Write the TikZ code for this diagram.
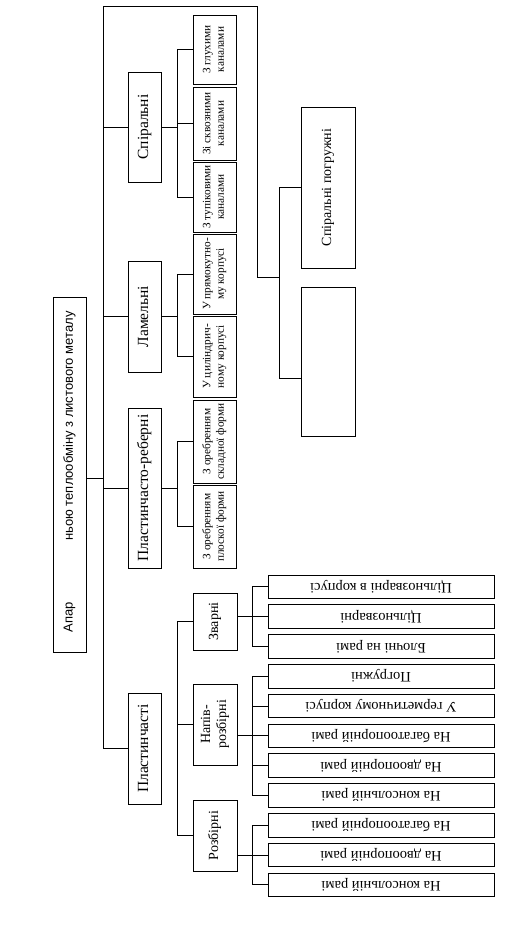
\documentclass[tikz,border=0pt]{standalone}
\usepackage{fontspec}
\setmainfont{Liberation Serif}
\newfontfamily\rootfont{Liberation Sans}
\usepackage{graphicx}
\newcommand\vtxt[1]{\rotatebox{90}{\begin{tabular}{@{}c@{}}#1\end{tabular}}}
\newcommand\utxt[1]{\rotatebox{180}{#1}}
\begin{document}
\begin{tikzpicture}[x=1pt,y=-1pt,
  box/.style={draw, line width=0.9pt, rectangle, inner sep=0pt},
  lnk/.style={line width=0.8pt},
  lvone/.style={box, minimum width=33pt, font=\fontsize{15.5}{18}\selectfont},
  lvtwo/.style={box, minimum width=43pt, font=\fontsize{11.3}{13.5}\selectfont},
  lvtwob/.style={box, minimum width=44pt, font=\fontsize{14}{16}\selectfont},
  leaf/.style={box, minimum width=226pt, minimum height=23.5pt, font=\fontsize{14.5}{17}\selectfont},
  rtxt/.style={inner sep=0pt, font=\rootfont\fontsize{13}{15}\selectfont}]
\useasboundingbox[fill=white] (0,0) rectangle (521,943);

% root
\node[box, minimum width=33pt, minimum height=355pt] (root) at (69.5,474.5) {};
\node[rtxt] (rt1) at (69.5,617.5) {\rotatebox{90}{Апар}};
\node[rtxt] (rt2) at (69.5,426) {\rotatebox{90}{ньою теплообміну з листового металу}};

% level 1
\node[lvone, minimum height=110pt] (spir) at (144.5,127) {\vtxt{Спіральні}};
\node[lvone, minimum height=111pt] (lam) at (144.5,316.5) {\vtxt{Ламельні}};
\node[lvone, minimum height=160pt] (plreb) at (144.5,488) {\vtxt{Пластинчасто-реберні}};
\node[lvone, minimum height=111pt] (plast) at (144.5,748.5) {\vtxt{Пластинчасті}};

% spiral children
\node[lvtwo, minimum height=69pt] (g1) at (214.5,49.5) {\vtxt{З глухими\\каналами}};
\node[lvtwo, minimum height=73pt] (g2) at (214.5,123.5) {\vtxt{Зі сквозними\\каналами}};
\node[lvtwo, minimum height=70pt] (g3) at (214.5,197) {\vtxt{З тупіковими\\каналами}};
% lamel children
\node[lvtwo, minimum height=80pt] (l1) at (214.5,274) {\vtxt{У прямокутно-\\му корпусі}};
\node[lvtwo, minimum height=81pt] (l2) at (214.5,356.5) {\vtxt{У циліндрич-\\ному корпусі}};
% plate-fin children
\node[lvtwo, minimum height=83pt] (r1) at (214.5,441.5) {\vtxt{З оребренням\\складної форми}};
\node[lvtwo, minimum height=83pt] (r2) at (214.5,526.5) {\vtxt{З оребренням\\плоскої форми}};
% plate children
\node[lvtwob, minimum height=57pt] (zv) at (215,621.5) {\vtxt{Зварні}};
\node[lvtwob, minimum height=81pt] (np) at (215,724.5) {\vtxt{Напів-\\розбірні}};
\node[lvtwob, minimum height=71pt] (rz) at (215,835.5) {\vtxt{Розбірні}};

% leaves
\node[leaf] (z1) at (381,586.8) {\utxt{Цільнозварні в корпусі}};
\node[leaf] (z2) at (381,616.6) {\utxt{Цільнозварні}};
\node[leaf] (z3) at (381,646.4) {\utxt{Блочні на рамі}};
\node[leaf] (n1) at (381,676.2) {\utxt{Погружні}};
\node[leaf] (n2) at (381,706.0) {\utxt{У герметичному корпусі}};
\node[leaf] (n3) at (381,735.8) {\utxt{На багатоопорній рамі}};
\node[leaf] (n4) at (381,765.6) {\utxt{На двоопорній рамі}};
\node[leaf] (n5) at (381,795.4) {\utxt{На консольній рамі}};
\node[leaf] (q1) at (381,825.2) {\utxt{На багатоопорній рамі}};
\node[leaf] (q2) at (381,855.0) {\utxt{На двоопорній рамі}};
\node[leaf] (q3) at (381,884.8) {\utxt{На консольній рамі}};

% spiral immersed
\node[box, minimum width=54pt, minimum height=161pt, font=\fontsize{14}{16}\selectfont] (sp1) at (328,187.5) {\vtxt{Спіральні погружні}};
\node[box, minimum width=54pt, minimum height=149pt] (sp2) at (328,361.5) {};

% coordinates
\coordinate (ttop) at (103,6);
\coordinate (c1) at (257,6);
\coordinate (c2) at (257,277);
\coordinate (spbus) at (279,277);
\coordinate (sp2j) at (279,378);
\coordinate (rj) at (103,478);
\coordinate (bA) at (177,0);
\coordinate (bB) at (252,0);

% trunk
\draw[lnk] (ttop) -- (ttop |- plast.west) -- (plast.west);
\draw[lnk] (rj) -- (rj -| root.east);
\draw[lnk] (spir.west) -- (spir.west -| ttop);
\draw[lnk] (lam.west) -- (lam.west -| ttop);
\draw[lnk] (plreb.west) -- (plreb.west -| ttop);
\draw[lnk] (ttop) -- (c1) -- (c2) -- (spbus);
\draw[lnk] (sp1.west) -- (sp1.west -| spbus) -- (sp2j) -- (sp2j -| sp2.west);

% spiral children
\draw[lnk] (spir.east) -- (spir.east -| bA);
\draw[lnk] (g1.west) -- (g1.west -| bA) -- (g3.west -| bA) -- (g3.west);
\draw[lnk] (g2.west) -- (g2.west -| bA);
% lamel
\draw[lnk] (lam.east) -- (lam.east -| bA);
\draw[lnk] (l1.west) -- (l1.west -| bA) -- (l2.west -| bA) -- (l2.west);
% plate-fin
\draw[lnk] (plreb.east) -- (plreb.east -| bA);
\draw[lnk] (r1.west) -- (r1.west -| bA) -- (r2.west -| bA) -- (r2.west);
% plate children bus (not joined to the box)
\draw[lnk] (zv.west) -- (zv.west -| bA) -- (rz.west -| bA) -- (rz.west);
\draw[lnk] (np.west) -- (np.west -| bA);

% leaves buses
\draw[lnk] (zv.east |- z2.west) -- (z2.west);
\draw[lnk] (z1.west) -- (z1.west -| bB) -- (z3.west -| bB) -- (z3.west);
\draw[lnk] (np.east |- n3.west) -- (n3.west);
\draw[lnk] (n1.west) -- (n1.west -| bB) -- (n5.west -| bB) -- (n5.west);
\draw[lnk] (n2.west) -- (n2.west -| bB);
\draw[lnk] (n4.west) -- (n4.west -| bB);
\draw[lnk] (rz.east |- q2.west) -- (q2.west);
\draw[lnk] (q1.west) -- (q1.west -| bB) -- (q3.west -| bB) -- (q3.west);
\end{tikzpicture}
\end{document}
